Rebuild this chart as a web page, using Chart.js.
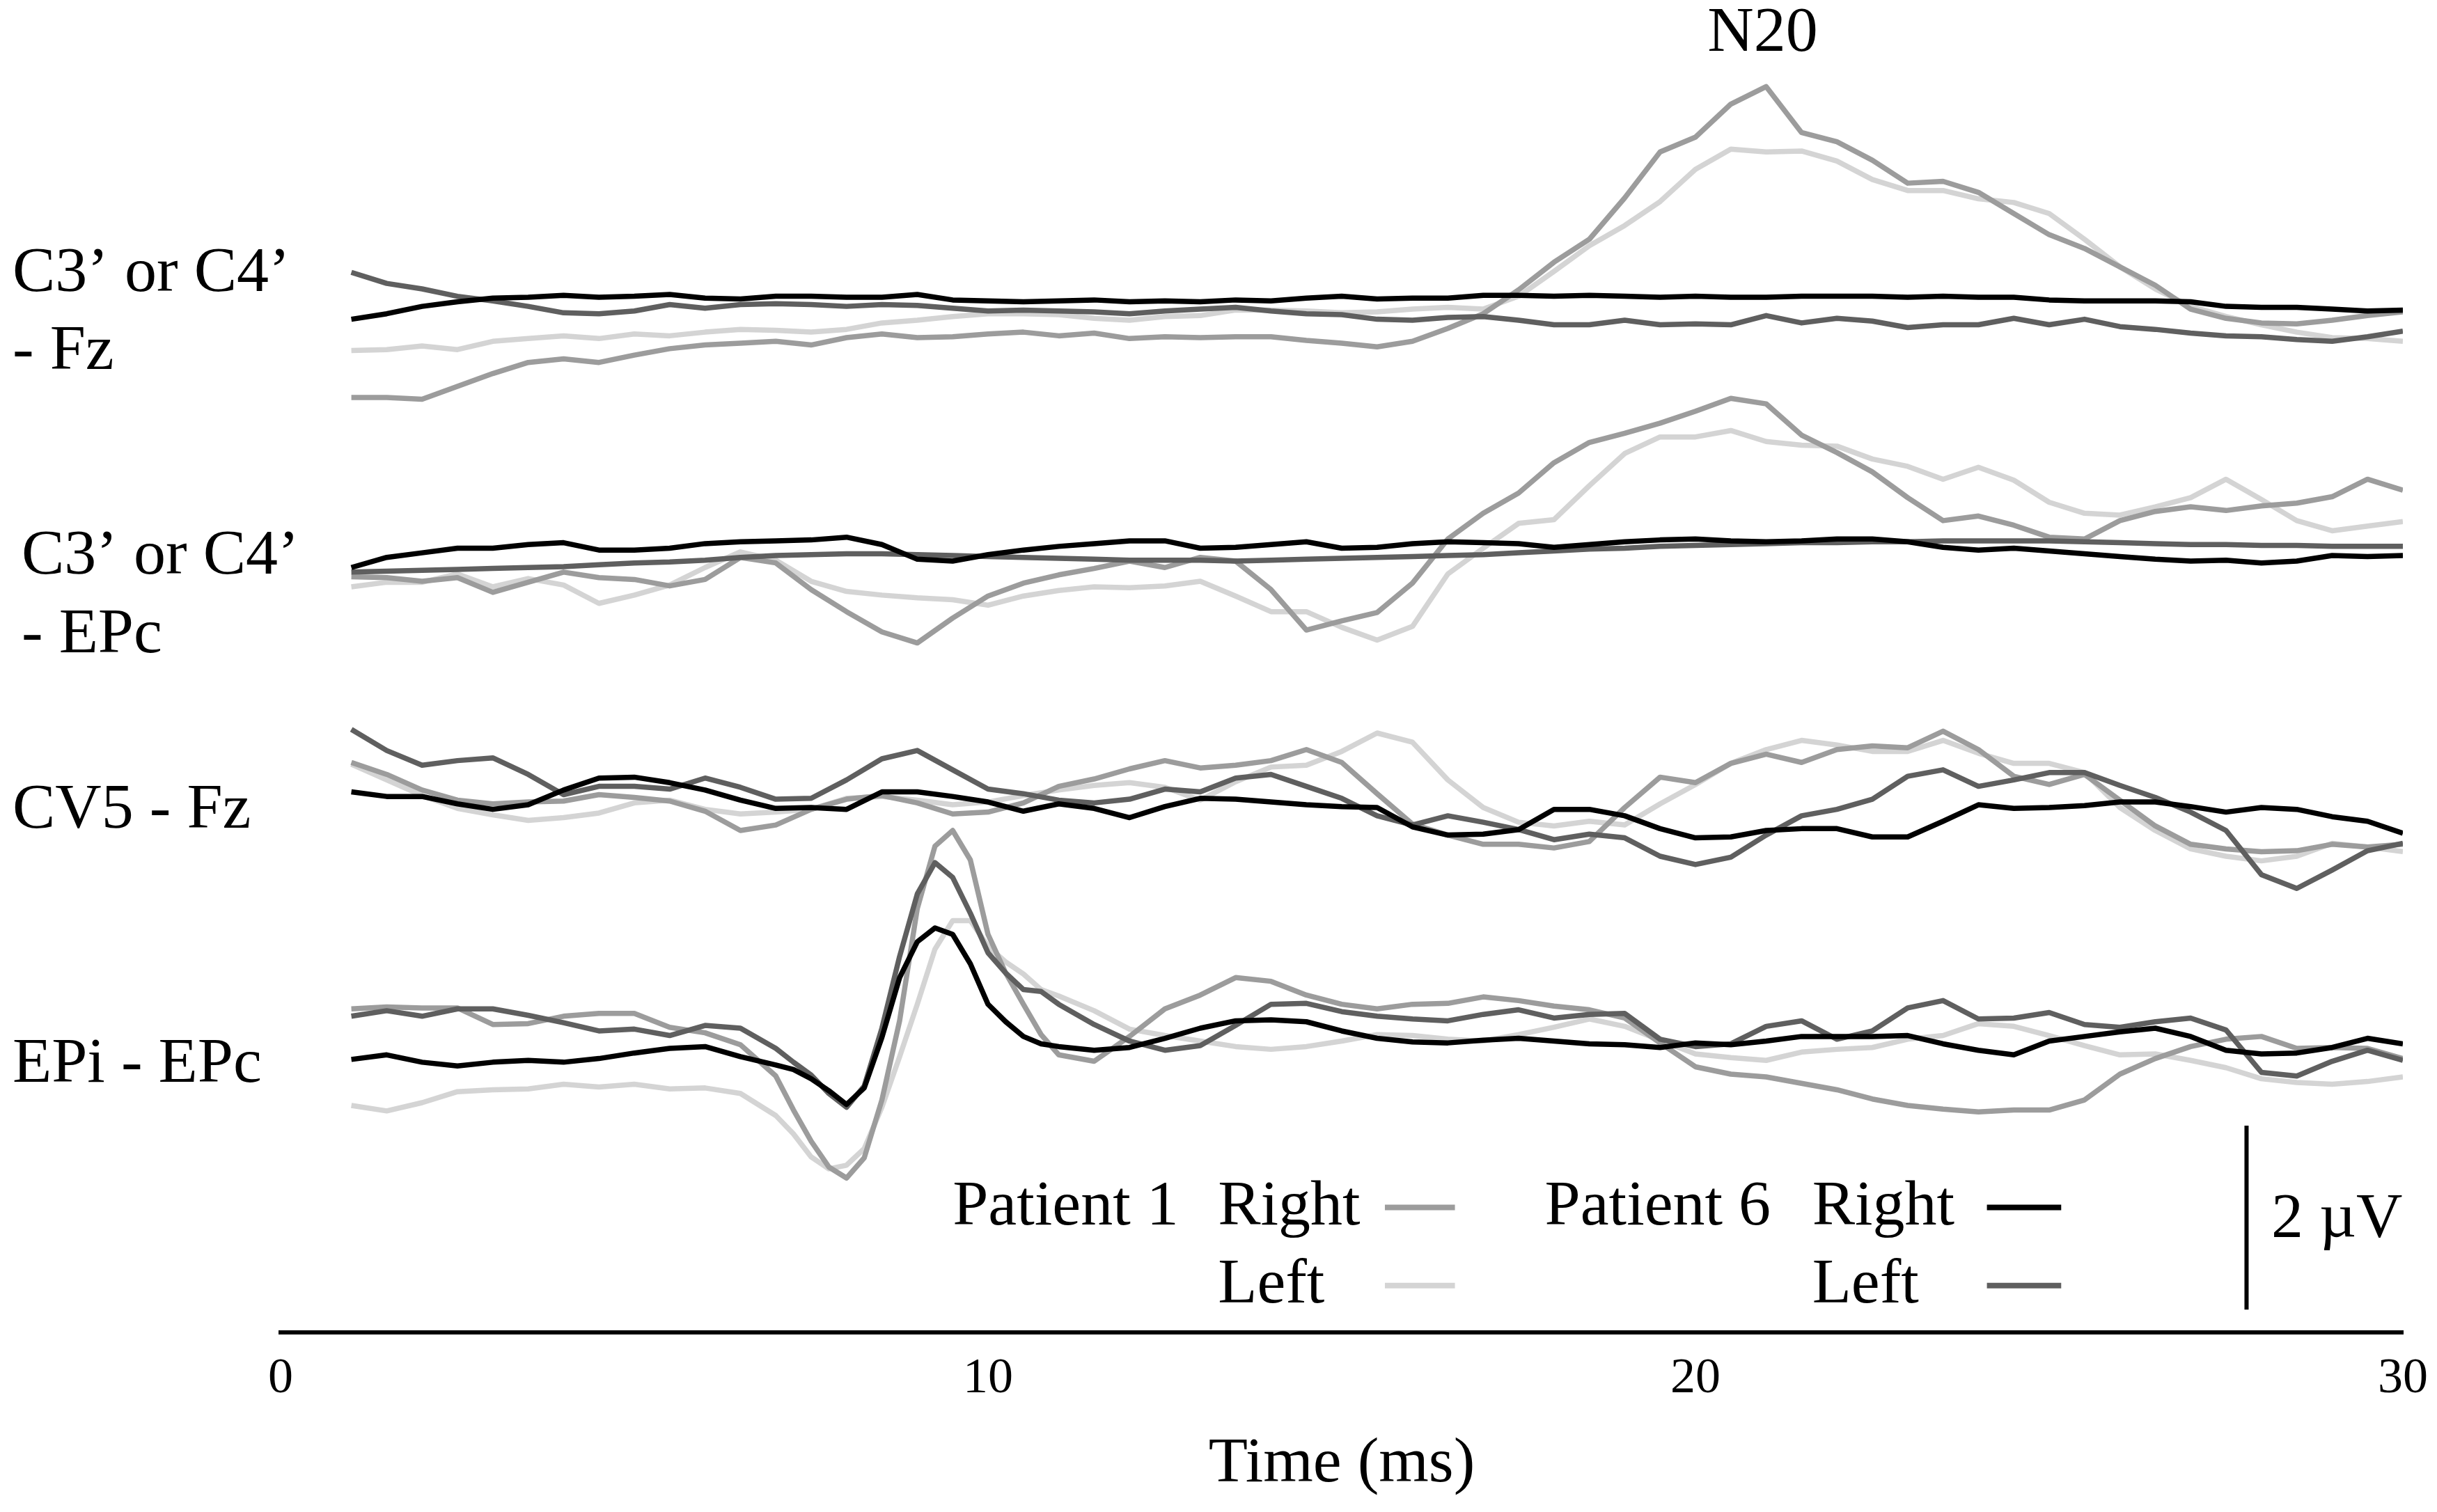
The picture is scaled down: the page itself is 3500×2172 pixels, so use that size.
<!DOCTYPE html>
<html lang="en">
<head>
<meta charset="UTF-8">
<title>SEP traces</title>
<script src="https://cdn.jsdelivr.net/npm/chart.js@4.4.1/dist/chart.umd.min.js"></script>
<style>
  html, body { margin: 0; padding: 0; background: #fff; }
  .container { width: 3500px; height: 2172px; position: relative; }
</style>
</head>
<body>
<div class="container"><canvas id="sepChart"></canvas></div>
<script>
// sample times (ms)
const timeMs = [1,1.5,2,2.5,3,3.5,4,4.5,5,5.5,6,6.5,7,7.5,8,8.5,9,9.5,10,10.5,11,11.5,12,12.5,13,13.5,14,14.5,15,
  15.5,16,16.5,17,17.5,18,18.5,19,19.5,20,20.5,21,21.5,22,22.5,23,23.5,24,24.5,25,25.5,26,26.5,27,27.5,28,28.5,29,29.5,30];
// EPi - EPc is read more finely around the far-field peak
const timeMsEPi = [1,1.5,2,2.5,3,3.5,4,4.5,5,5.5,6,6.5,7,
  7.25,7.5,7.75,8,8.25,8.5,8.75,9,9.25,9.5,9.75,10,10.25,10.5,10.75,11,
  11.5,12,12.5,13,13.5,14,14.5,15,15.5,16,16.5,17,17.5,18,18.5,19,19.5,20,20.5,21,21.5,22,22.5,23,23.5,24,24.5,25,25.5,26,26.5,27,27.5,28,28.5,29,29.5,30];

// C3' or C4' - Fz (uV)
const fzP1Right = [-0.83,-0.83,-0.85,-0.71,-0.57,-0.45,-0.41,-0.45,-0.37,-0.30,-0.26,-0.24,-0.22,-0.26,-0.18,-0.14,-0.18,-0.17,-0.14,-0.12,-0.16,-0.13,-0.19,-0.17,-0.18,-0.17,-0.17,-0.21,-0.24,
  -0.28,-0.22,-0.08,0.08,0.34,0.64,0.89,1.34,1.84,2.00,2.36,2.55,2.05,1.95,1.75,1.50,1.52,1.40,1.17,0.94,0.79,0.59,0.39,0.13,0.03,-0.02,-0.03,0.01,0.06,0.10];
const fzP1Left = [-0.32,-0.31,-0.27,-0.31,-0.22,-0.19,-0.16,-0.19,-0.14,-0.16,-0.12,-0.09,-0.10,-0.12,-0.09,-0.02,0.01,0.05,0.08,0.08,0.07,0.03,0.01,0.05,0.06,0.12,0.12,0.11,0.09,
  0.10,0.13,0.15,0.13,0.27,0.54,0.82,1.04,1.30,1.65,1.87,1.84,1.85,1.74,1.54,1.42,1.42,1.33,1.29,1.17,0.89,0.59,0.35,0.16,0.05,-0.04,-0.12,-0.18,-0.19,-0.22];
const fzP6Right = [0.02,0.08,0.16,0.21,0.25,0.26,0.28,0.26,0.27,0.29,0.25,0.24,0.27,0.27,0.26,0.26,0.29,0.23,0.22,0.21,0.22,0.23,0.21,0.22,0.21,0.23,0.22,0.25,0.27,
  0.24,0.25,0.25,0.28,0.28,0.27,0.28,0.27,0.26,0.27,0.26,0.26,0.27,0.27,0.27,0.26,0.27,0.26,0.26,0.23,0.22,0.22,0.22,0.21,0.16,0.15,0.15,0.13,0.11,0.12];
const fzP6Left = [0.53,0.41,0.35,0.27,0.22,0.16,0.09,0.08,0.11,0.18,0.14,0.18,0.19,0.18,0.16,0.18,0.17,0.14,0.11,0.12,0.11,0.10,0.08,0.11,0.13,0.15,0.11,0.08,0.07,
  0.02,0.01,0.04,0.05,0.01,-0.04,-0.04,0.01,-0.04,-0.03,-0.04,0.06,-0.02,0.03,0.00,-0.07,-0.04,-0.04,0.03,-0.04,0.02,-0.06,-0.09,-0.13,-0.16,-0.17,-0.20,-0.22,-0.17,-0.11];

// C3' or C4' - EPc
const epcP1Right = [-0.18,-0.19,-0.23,-0.19,-0.35,-0.24,-0.13,-0.19,-0.21,-0.28,-0.21,0.03,-0.03,-0.32,-0.56,-0.78,-0.90,-0.63,-0.39,-0.25,-0.16,-0.09,-0.01,-0.08,0.03,-0.01,-0.32,-0.76,-0.66,
  -0.57,-0.25,0.23,0.51,0.73,1.06,1.28,1.38,1.49,1.62,1.76,1.70,1.36,1.17,0.96,0.68,0.43,0.48,0.38,0.25,0.23,0.43,0.53,0.58,0.54,0.59,0.62,0.69,0.88,0.76];
const epcP1Left = [-0.29,-0.24,-0.24,-0.15,-0.29,-0.20,-0.27,-0.47,-0.38,-0.27,-0.08,0.09,0.00,-0.23,-0.34,-0.38,-0.41,-0.43,-0.49,-0.39,-0.33,-0.29,-0.30,-0.28,-0.23,-0.39,-0.56,-0.56,-0.73,
  -0.87,-0.72,-0.15,0.13,0.40,0.44,0.81,1.16,1.34,1.34,1.41,1.29,1.25,1.24,1.10,1.02,0.88,1.01,0.87,0.63,0.51,0.49,0.58,0.68,0.88,0.66,0.43,0.32,0.37,0.42];
const epcP6Right = [-0.08,0.03,0.08,0.13,0.13,0.17,0.19,0.11,0.11,0.13,0.18,0.20,0.21,0.22,0.25,0.17,0.01,-0.01,0.06,0.11,0.15,0.18,0.21,0.21,0.13,0.14,0.17,0.20,0.13,
  0.14,0.18,0.20,0.19,0.18,0.14,0.17,0.20,0.22,0.23,0.21,0.20,0.21,0.23,0.23,0.20,0.14,0.11,0.13,0.10,0.07,0.04,0.01,-0.01,0.00,-0.03,-0.01,0.05,0.04,0.05];
const epcP6Left = [-0.13,-0.12,-0.11,-0.10,-0.09,-0.08,-0.07,-0.05,-0.03,-0.02,0.00,0.03,0.05,0.06,0.07,0.07,0.06,0.05,0.04,0.03,0.02,0.01,0.00,0.00,0.00,-0.01,0.00,0.01,0.02,
  0.03,0.04,0.05,0.06,0.08,0.10,0.12,0.13,0.15,0.16,0.17,0.18,0.19,0.19,0.20,0.20,0.21,0.21,0.21,0.21,0.20,0.19,0.18,0.17,0.17,0.16,0.16,0.15,0.15,0.15];

// CV5 - Fz
const cv5P1Right = [0.50,0.37,0.20,0.09,0.05,0.07,0.08,0.15,0.12,0.08,-0.03,-0.24,-0.18,-0.01,0.10,0.14,0.06,-0.06,-0.04,0.06,0.24,0.32,0.43,0.52,0.44,0.47,0.52,0.64,0.50,
  0.16,-0.17,-0.29,-0.39,-0.39,-0.43,-0.36,0.01,0.34,0.28,0.49,0.59,0.50,0.64,0.68,0.66,0.84,0.64,0.35,0.26,0.37,0.09,-0.19,-0.39,-0.44,-0.47,-0.46,-0.39,-0.42,-0.39];
const cv5P1Left = [0.48,0.31,0.14,0.00,-0.07,-0.13,-0.10,-0.05,0.06,0.09,-0.01,-0.06,-0.04,-0.01,0.11,0.13,0.09,0.04,0.07,0.14,0.20,0.25,0.28,0.23,0.09,0.29,0.45,0.47,0.62,
  0.82,0.72,0.31,0.01,-0.15,-0.19,-0.14,-0.18,0.05,0.26,0.49,0.64,0.74,0.69,0.62,0.62,0.74,0.60,0.49,0.49,0.39,0.01,-0.24,-0.44,-0.52,-0.57,-0.52,-0.38,-0.42,-0.47];
const cv5P6Right = [0.18,0.13,0.13,0.05,-0.01,0.04,0.20,0.33,0.34,0.28,0.20,0.09,0.00,0.01,-0.01,0.18,0.18,0.13,0.07,-0.03,0.05,0.00,-0.10,0.02,0.11,0.10,0.07,0.04,0.02,
  0.01,-0.20,-0.29,-0.28,-0.23,-0.01,-0.01,-0.08,-0.22,-0.32,-0.31,-0.24,-0.22,-0.22,-0.31,-0.31,-0.14,0.04,0.00,0.01,0.03,0.07,0.07,0.02,-0.04,0.01,-0.01,-0.09,-0.14,-0.27];
const cv5P6Left = [0.86,0.63,0.47,0.52,0.55,0.37,0.15,0.24,0.24,0.21,0.33,0.23,0.10,0.11,0.31,0.54,0.63,0.42,0.21,0.16,0.09,0.06,0.10,0.21,0.18,0.33,0.37,0.24,0.11,
  -0.08,-0.18,-0.08,-0.15,-0.23,-0.34,-0.28,-0.32,-0.52,-0.61,-0.53,-0.29,-0.08,-0.01,0.10,0.35,0.42,0.24,0.31,0.39,0.39,0.25,0.12,-0.04,-0.24,-0.72,-0.87,-0.67,-0.46,-0.38];

// EPi - EPc (on timeMsEPi)
const epiP1Right = [0.52,0.54,0.53,0.53,0.35,0.36,0.44,0.47,0.47,0.32,0.26,0.13,-0.21,
  -0.58,-0.92,-1.20,-1.32,-1.10,-0.47,0.39,1.61,2.29,2.46,2.14,1.33,0.91,0.57,0.24,0.02,
  -0.05,0.22,0.52,0.67,0.86,0.82,0.67,0.57,0.52,0.57,0.58,0.65,0.61,0.55,0.51,0.42,0.15,-0.11,-0.19,-0.22,-0.29,-0.36,-0.46,-0.53,-0.57,-0.60,-0.58,-0.58,-0.47,-0.19,-0.02,0.11,0.19,0.22,0.09,0.10,0.09,-0.02];
const epiP1Left = [-0.53,-0.59,-0.50,-0.38,-0.36,-0.35,-0.30,-0.33,-0.30,-0.35,-0.34,-0.40,-0.64,
  -0.84,-1.09,-1.22,-1.18,-1.00,-0.55,0.00,0.57,1.17,1.48,1.48,1.20,1.03,0.90,0.73,0.66,
  0.50,0.30,0.23,0.17,0.11,0.08,0.11,0.17,0.24,0.23,0.19,0.17,0.24,0.32,0.41,0.33,0.18,0.03,-0.01,-0.04,0.05,0.08,0.10,0.19,0.23,0.36,0.33,0.23,0.12,0.02,0.03,-0.04,-0.12,-0.24,-0.28,-0.30,-0.27,-0.22];
const epiP6Right = [-0.03,0.02,-0.06,-0.10,-0.06,-0.04,-0.06,-0.02,0.04,0.09,0.11,0.00,-0.09,
  -0.14,-0.24,-0.37,-0.52,-0.34,0.21,0.86,1.25,1.40,1.33,1.01,0.57,0.38,0.22,0.14,0.11,
  0.07,0.10,0.20,0.31,0.39,0.40,0.38,0.28,0.20,0.16,0.15,0.18,0.20,0.17,0.14,0.13,0.10,0.15,0.13,0.17,0.22,0.22,0.22,0.23,0.14,0.07,0.02,0.17,0.22,0.27,0.31,0.22,0.07,0.03,0.04,0.10,0.20,0.14];
const epiP6Left = [0.44,0.50,0.44,0.52,0.52,0.45,0.37,0.28,0.30,0.23,0.34,0.31,0.09,
  -0.06,-0.20,-0.40,-0.55,-0.32,0.31,1.09,1.77,2.11,1.95,1.56,1.13,0.91,0.73,0.71,0.57,
  0.35,0.17,0.07,0.12,0.34,0.57,0.58,0.49,0.44,0.41,0.39,0.46,0.51,0.42,0.46,0.47,0.19,0.11,0.14,0.33,0.39,0.19,0.28,0.53,0.61,0.41,0.42,0.48,0.35,0.32,0.38,0.42,0.29,-0.17,-0.21,-0.05,0.07,-0.04];

const channelLabels = [["C3\u2019 or C4\u2019", "- Fz"], ["C3\u2019 or C4\u2019", "- EPc"], ["CV5 - Fz"], ["EPi - EPc"]];
const channelOffsets = [11.0, 8.4, 5.7, 3.0];   // uV shift of each channel row
const xTicks = [0, 10, 20, 30];

const seriesNames = ['Patient 6 Right', 'Patient 6 Left', 'Patient 1 Right', 'Patient 1 Left'];
const seriesColors = ['#000000', '#5f5f5f', '#9c9c9c', '#d4d4d4'];

const channels = [
  { times: timeMs, values: [fzP6Right, fzP6Left, fzP1Right, fzP1Left] },
  { times: timeMs, values: [epcP6Right, epcP6Left, epcP1Right, epcP1Left] },
  { times: timeMs, values: [cv5P6Right, cv5P6Left, cv5P1Right, cv5P1Left] },
  { times: timeMsEPi, values: [epiP6Right, epiP6Left, epiP1Right, epiP1Left] }
];

const datasets = [];
channels.forEach((ch, g) => {
  ch.values.forEach((vals, s) => {
    datasets.push({
      label: seriesNames[s],
      data: ch.times.map((t, i) => ({ x: t, y: vals[i] + channelOffsets[g] })),
      borderColor: seriesColors[s],
      borderWidth: 7.5,
      pointRadius: 0,
      tension: 0,
      borderJoinStyle: 'round',
      order: s
    });
  });
});

const serif = '"Liberation Serif", "Times New Roman", serif';

// labels, N20 marker, legend and calibration bar
const annotations = {
  id: 'annotations',
  afterDraw(chart) {
    const ctx = chart.ctx;
    const xs = chart.scales.x, ys = chart.scales.y;
    ctx.save();
    ctx.fillStyle = '#000';
    ctx.font = '92px ' + serif;
    ctx.textBaseline = 'middle';

    // channel names on the left
    const labelX = [18, 31, 18, 18];
    const labelY = [[11.51, 10.66], [8.44, 7.58], [5.67], [2.91]];
    ctx.textAlign = 'left';
    channelLabels.forEach((lines, g) => {
      lines.forEach((text, k) => ctx.fillText(text, labelX[g], ys.getPixelForValue(labelY[g][k])));
    });

    // N20
    ctx.textAlign = 'center';
    ctx.fillText('N20', xs.getPixelForValue(20.95), ys.getPixelForValue(14.12));

    // legend
    ctx.textAlign = 'left';
    const rowY = [ys.getPixelForValue(1.36), ys.getPixelForValue(0.51)];
    const blocks = [
      { patient: 'Patient 1', px: 9.5, sx: 13.25, lx: [15.61, 16.6], colors: [seriesColors[2], seriesColors[3]] },
      { patient: 'Patient 6', px: 17.87, sx: 21.65, lx: [24.12, 25.17], colors: [seriesColors[0], seriesColors[1]] }
    ];
    blocks.forEach(b => {
      ctx.fillText(b.patient, xs.getPixelForValue(b.px), rowY[0]);
      ['Right', 'Left'].forEach((side, r) => {
        ctx.fillText(side, xs.getPixelForValue(b.sx), rowY[r]);
        ctx.strokeStyle = b.colors[r];
        ctx.lineWidth = 8;
        ctx.beginPath();
        ctx.moveTo(xs.getPixelForValue(b.lx[0]), rowY[r]);
        ctx.lineTo(xs.getPixelForValue(b.lx[1]), rowY[r]);
        ctx.stroke();
      });
    });

    // 2 uV calibration bar
    const barX = xs.getPixelForValue(27.79);
    ctx.strokeStyle = '#000';
    ctx.lineWidth = 6;
    ctx.beginPath();
    ctx.moveTo(barX, ys.getPixelForValue(0.25));
    ctx.lineTo(barX, ys.getPixelForValue(2.25));
    ctx.stroke();
    ctx.fillText('2 \u00B5V', xs.getPixelForValue(28.14), ys.getPixelForValue(1.22));
    ctx.restore();
  }
};

new Chart(document.getElementById('sepChart'), {
  type: 'line',
  data: { datasets: datasets },
  options: {
    responsive: true,
    maintainAspectRatio: false,
    devicePixelRatio: 1,
    animation: false,
    layout: { padding: { left: 403, right: 49, top: 65, bottom: 13 } },
    plugins: { legend: { display: false }, tooltip: { enabled: false } },
    scales: {
      x: {
        type: 'linear',
        min: 0,
        max: 30,
        afterBuildTicks: axis => { axis.ticks = xTicks.map(v => ({ value: v })); },
        // the end labels fit inside the page margins, so no extra overflow padding
        afterFit: axis => { axis.paddingLeft = 0; axis.paddingRight = 0; },
        grid: { display: false, drawTicks: false },
        border: { display: true, color: '#000', width: 6 },
        ticks: { color: '#000', font: { family: serif, size: 72 }, padding: 24, maxRotation: 0 },
        title: { display: true, text: 'Time (ms)', color: '#000', font: { family: serif, size: 92 }, padding: { top: 0, bottom: 0 } }
      },
      y: { display: false, min: 0, max: 14 }
    }
  },
  plugins: [annotations]
});
</script>
</body>
</html>
